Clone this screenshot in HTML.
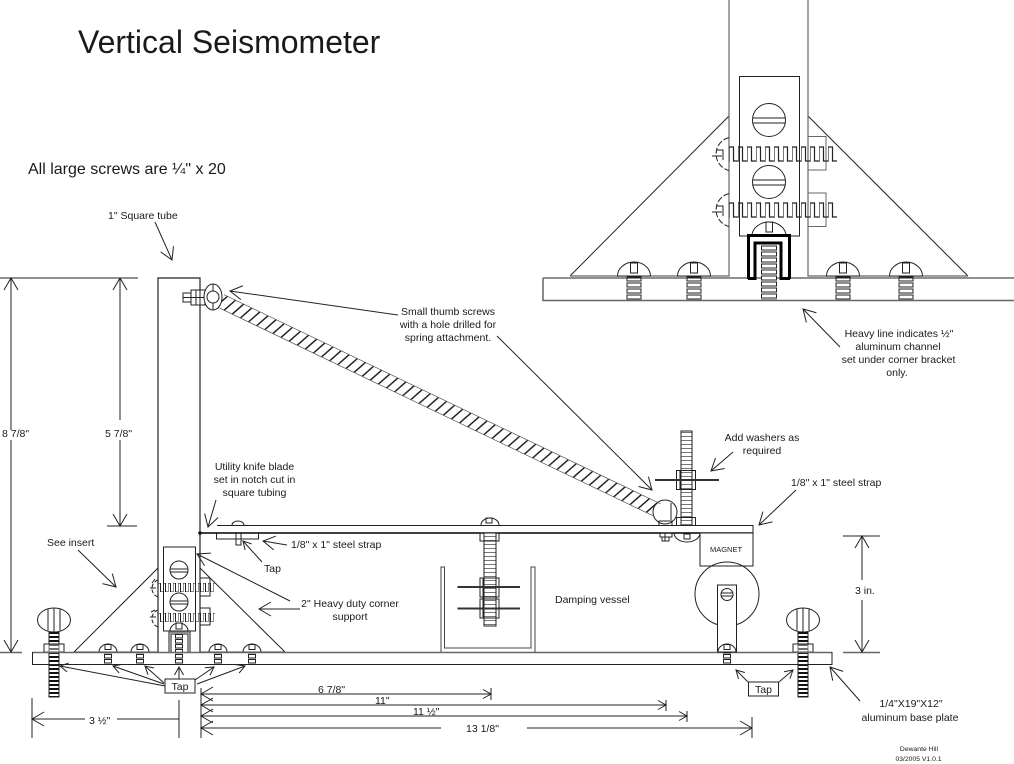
<!DOCTYPE html>
<html><head><meta charset="utf-8"><style>
html,body{margin:0;padding:0;background:#fff;width:1014px;height:764px;overflow:hidden}
svg{display:block}
text{font-family:"Liberation Sans",sans-serif;fill:#1a1a1a;font-size:10.5px}
.c{text-anchor:middle}
.l{fill:none;stroke:#222;stroke-width:1}
.g{fill:none;stroke:#666;stroke-width:1.500}
.a{fill:none;stroke:#222;stroke-width:1;marker-end:url(#ah)}
.s{fill:none;stroke:#222;stroke-width:1;marker-end:url(#as)}
.w{fill:#fff;stroke:#222;stroke-width:1}
.h{fill:none;stroke:#000;stroke-width:3}
</style></head><body>
<svg width="1014" height="764" viewBox="0 0 1014 764" xmlns="http://www.w3.org/2000/svg">
<defs>
<marker id="ah" markerUnits="userSpaceOnUse" markerWidth="26" markerHeight="26" refX="15" refY="9" orient="auto"><path d="M3 2 L15 9 L3 16" fill="none" stroke="#222" stroke-width="1"/></marker>
<marker id="as" markerUnits="userSpaceOnUse" markerWidth="16" markerHeight="16" refX="10" refY="6" orient="auto"><path d="M2 1.500 L10 6 L2 10.500" fill="none" stroke="#222" stroke-width="1"/></marker>
<pattern id="vt" width="8" height="4" patternUnits="userSpaceOnUse"><rect width="8" height="4" fill="#fff"/><rect width="8" height="2" fill="#111"/></pattern>
<pattern id="vl" width="8" height="4" patternUnits="userSpaceOnUse"><rect width="8" height="4" fill="#fff"/><rect width="8" height="1" fill="#777"/></pattern>
<pattern id="tb" x="-7.500" y="0" width="15" height="6" patternUnits="userSpaceOnUse"><rect x="0.500" y="1" width="14" height="4" fill="#fff" stroke="#222"/></pattern>
<pattern id="tc" x="761" y="245" width="16" height="6" patternUnits="userSpaceOnUse"><rect x="0.500" y="1" width="15" height="4" fill="#fff" stroke="#222"/></pattern>
<pattern id="tm" x="-4" y="0" width="8" height="5" patternUnits="userSpaceOnUse"><rect x="0.500" y="0.500" width="7" height="3.500" fill="#fff" stroke="#222"/></pattern>
<pattern id="tm2" x="175" y="634" width="8" height="5" patternUnits="userSpaceOnUse"><rect x="0.500" y="0.500" width="7" height="3.500" fill="#fff" stroke="#222"/></pattern>
<pattern id="sq" x="729" y="146" width="9" height="16" patternUnits="userSpaceOnUse"><path d="M0 16V1H4.500V15H9" fill="none" stroke="#222" stroke-width="1.200"/></pattern>
<pattern id="sq2" x="729" y="202" width="9" height="16" patternUnits="userSpaceOnUse"><path d="M0 16V1H4.500V15H9" fill="none" stroke="#222" stroke-width="1.200"/></pattern>
<pattern id="m1" x="158" y="583" width="5" height="9" patternUnits="userSpaceOnUse"><path d="M0 9V0H2.500V9H5" fill="none" stroke="#222" stroke-width="1"/></pattern>
<pattern id="m2" x="158" y="613" width="5" height="9" patternUnits="userSpaceOnUse"><path d="M0 9V0H2.500V9H5" fill="none" stroke="#222" stroke-width="1"/></pattern>
<g id="big"><rect x="-7.500" y="-1" width="15" height="25" fill="url(#tb)"/><path d="M-16.500 0A16.500 14 0 0 1 16.500 0Z" class="w"/><rect x="-3.500" y="-13" width="7" height="10" class="w"/></g>
<g id="mini"><rect x="-4" y="8" width="8" height="12" fill="url(#tm)"/><path d="M-9 8A9 8 0 0 1 9 8Z" class="w"/><rect x="-3" y="0.500" width="6" height="5" class="w"/></g>
<g id="thumb"><ellipse rx="16.500" ry="12" cx="0" cy="0" class="w"/><path d="M-6-10.500V10.500M0-12V12M6-10.500V10.500" class="l"/><rect x="-5" y="12" width="10" height="65" fill="url(#vt)"/><path d="M-5 12V77H5V12" class="l"/><rect x="-10" y="24" width="20" height="8" class="w" fill-opacity="0.4"/></g>
</defs>

<text x="78" y="53" style="font-size:32px">Vertical Seismometer</text>
<text x="28" y="174" style="font-size:16px">All large screws are ¼" x 20</text>

<!-- INSERT -->
<path d="M570 276 L729 116 M808 116 L968 276" class="l"/>
<path d="M570 276H729V0M808 0V276H968" class="g" style="stroke-width:1.200"/>
<use href="#big" x="634" y="276"/><use href="#big" x="694" y="276"/><use href="#big" x="843" y="276"/><use href="#big" x="906" y="276"/>
<path d="M543 278H1014" class="l"/><path d="M543 278V300.500H1014" class="g"/>
<rect x="739.500" y="76.500" width="60" height="159.500" class="w"/>
<circle cx="769" cy="120" r="16.500" class="l"/><path d="M752.500 118H785.500M752.500 123H785.500" class="l"/>
<circle cx="769" cy="182" r="16.500" class="l"/><path d="M752.500 180H785.500M752.500 185H785.500" class="l"/>
<path d="M729 137.500A17 17 0 0 0 729 170.500M729 193.500A17 17 0 0 0 729 226.500" class="l" stroke-dasharray="6 2"/>
<path d="M716 150H723V160M712 156H722M716 206H723V216M712 212H722" class="l"/>
<rect x="808" y="136.500" width="18" height="33.500" class="g" style="stroke-width:1"/>
<rect x="808" y="193" width="18" height="33.500" class="g" style="stroke-width:1"/>
<rect x="729" y="146" width="108" height="16" fill="url(#sq)"/>
<rect x="729" y="202" width="108" height="16" fill="url(#sq2)"/>
<path d="M752 236A17 14 0 0 1 786 236" class="l"/><rect x="766" y="222" width="6.500" height="10" class="l"/>
<rect x="761" y="245" width="16" height="55" fill="url(#tc)"/>
<path d="M748.500 279V235.500H789.500V279" class="h"/><path d="M748 278.500H755V243H781V278.500H790" class="h"/>

<!-- tube -->
<path d="M200 652V278H158V652" class="l" style="stroke-width:1.200"/>
<path d="M158 652H74L158 568M200 652H285L200 568" class="l"/>
<use href="#mini" x="108" y="644"/><use href="#mini" x="140" y="644"/><use href="#mini" x="218" y="644"/><use href="#mini" x="252" y="644"/>
<!-- mini bracket -->
<rect x="163.500" y="547" width="32" height="84" class="w" stroke="#444"/>
<circle cx="179" cy="570" r="9" class="l"/><path d="M170 569H188M170 572H188" class="l"/>
<circle cx="179" cy="602" r="9" class="l"/><path d="M170 601H188M170 604H188" class="l"/>
<rect x="200" y="578" width="10" height="18" class="l"/><rect x="200" y="608" width="10" height="17" class="l"/>
<rect x="158" y="583" width="57" height="9" fill="url(#m1)"/><rect x="158" y="613" width="57" height="9" fill="url(#m2)"/>
<path d="M158 580A9 9 0 0 0 158 597M158 610A9 9 0 0 0 158 627" class="l" stroke-dasharray="4 2"/>
<path d="M152 583L155 579M150 588H156M151 612L155 610M150 617H156" class="l"/>
<path d="M169 652V632H190V652M171 652V634H188V652" class="g"/>
<path d="M170 631A9 8 0 0 1 188 631" class="l"/><rect x="176" y="623" width="6" height="6" class="l"/>
<rect x="175" y="634" width="8" height="30" fill="url(#tm2)"/>

<!-- thumb screws -->
<use href="#thumb" x="54" y="620"/>
<use href="#thumb" x="803" y="620"/>

<!-- base plate -->
<path d="M0 652.500H22" class="g"/>
<path d="M32 652.500H832" class="g"/>
<path d="M32.500 652V664.500H832V652" class="l"/>
<path d="M843 652.500H880" class="g"/>

<!-- spring-end eyelet -->
<circle cx="665" cy="512" r="12" class="l"/>
<path d="M671 503V520" class="l"/>

<!-- spring -->
<g transform="translate(221 301) rotate(25.600) skewX(-23)">
<path d="M0 0H486" stroke="#222" stroke-width="14" stroke-dasharray="1.600 7.400" fill="none"/>
</g>
<g transform="translate(221 301) rotate(25.600)">
<path d="M0 -7H484M0 7H484" stroke="#555" stroke-width="0.700" fill="none"/>
</g>

<!-- top thumb -->
<rect x="183" y="293" width="8" height="9" class="w"/><rect x="191" y="290" width="14" height="15" class="w"/><path d="M196 290V305M200 290V305M183 297.500H205" class="l"/>
<ellipse cx="213" cy="297" rx="9" ry="13" class="w"/><path d="M213 284V310" class="l"/><circle cx="213" cy="297" r="6" class="w"/>

<!-- strap / arm -->
<rect x="216.500" y="533" width="42" height="6" class="w"/>
<path d="M232 525A6 4 0 0 1 244 525" class="l"/><rect x="236" y="533" width="5" height="6" class="l"/><rect x="236" y="539" width="5" height="6" class="l"/>
<path d="M217 525.500H753V532.500" class="l"/>
<path d="M199 533H753" stroke="#000" stroke-width="1.500"/>
<circle cx="200" cy="533" r="1.800" fill="#111"/>

<!-- vessel -->
<path d="M441 652V567H444.500V648H531V567H535V652" class="g" style="stroke:#444;stroke-width:1"/>
<path d="M481 525A9 7 0 0 1 499 525" class="l"/><rect x="486" y="518" width="6" height="5" class="l"/>
<rect x="484" y="533" width="12" height="93" fill="url(#vl)"/><path d="M484 533V626H496V533" class="l"/>
<rect x="480" y="533" width="19" height="8" class="l"/>
<rect x="480" y="578" width="19" height="19" class="l"/><rect x="480" y="599" width="19" height="19" class="l"/>
<path d="M483 578V618M496 578V618" class="l"/>
<path d="M457.500 587H520M457.500 608.500H520" stroke="#333" stroke-width="2"/>

<!-- magnet & pivot -->
<rect x="700" y="533" width="53" height="33" class="w"/>
<text x="726" y="552" class="c" style="font-size:7.500px">MAGNET</text>
<circle cx="727" cy="594" r="32" class="l"/>
<rect x="717.500" y="585" width="19" height="67" class="w"/>
<circle cx="727" cy="594.500" r="6" class="l"/><path d="M721 593H733M721 596H733" stroke="#222" stroke-width="1"/>
<use href="#mini" x="727" y="644"/>

<!-- right threaded rod -->
<rect x="681" y="431" width="11" height="94" fill="url(#vl)"/><path d="M681 525V431H692V525" class="l"/>
<rect x="676.500" y="470.500" width="19" height="9" class="l"/><rect x="676.500" y="480.500" width="19" height="9" class="l"/><path d="M680 470V489M692 470V489" class="l"/>
<path d="M655 480H719" stroke="#333" stroke-width="2"/>
<rect x="676.500" y="517.500" width="19" height="8" class="l"/>
<path d="M674 533A13 9 0 0 0 700 533" class="l"/><rect x="684" y="534" width="6" height="5" class="l"/>
<path d="M659 521H672V525.500H659ZM660 533H672V537H660ZM662 537H669V541H662ZM665 533V541" class="l"/>

<!-- Tap boxes & arrows -->
<path class="s" d="M165 686L60 666"/><path class="s" d="M164 684L113 666"/><path class="s" d="M164 683L145 666"/><path class="s" d="M179 679V667"/><path class="s" d="M195 680L214 667"/><path class="s" d="M197 684L245 666"/><path class="s" d="M748 682L736 670"/><path class="s" d="M779 682L793 670"/>
<rect x="165" y="679" width="30" height="14" class="w"/><text x="180" y="690" class="c">Tap</text>
<rect x="748.500" y="682" width="30" height="14" class="w"/><text x="763.500" y="693" class="c">Tap</text>

<!-- Labels and pointers -->
<text x="108" y="219">1" Square tube</text>
<path d="M155 222L172 260" class="a"/>
<text x="47" y="546">See insert</text>
<path d="M78 550L116 587" class="a"/>
<text x="254.500" y="470" class="c">Utility knife blade</text>
<text x="254.500" y="483" class="c">set in notch cut in</text>
<text x="254.500" y="496" class="c">square tubing</text>
<path d="M216 500L208 527" class="a"/>
<text x="291" y="548">1/8" x 1" steel strap</text>
<path d="M287 545L263 541" class="a"/>
<text x="264" y="572">Tap</text>
<path d="M262 562L243 541" class="s"/>
<text x="350" y="607" class="c">2" Heavy duty corner</text>
<text x="350" y="620" class="c">support</text>
<path d="M290 601L197 554" class="a"/><path d="M300 609H259" class="a"/>
<text x="448" y="315" class="c">Small thumb screws</text>
<text x="448" y="328" class="c">with a hole drilled for</text>
<text x="448" y="341" class="c">spring attachment.</text>
<path d="M398 315L230 291" class="a"/><path d="M497 336L652 490" class="a"/>
<text x="762" y="441" class="c">Add washers as</text>
<text x="762" y="454" class="c">required</text>
<path d="M733 452L711 471" class="a"/>
<text x="791" y="486">1/8" x 1" steel strap</text>
<path d="M796 490L759 525" class="a"/>
<text x="555" y="603">Damping vessel</text>
<text x="899" y="337" class="c">Heavy line indicates ½"</text>
<text x="898" y="350" class="c">aluminum channel</text>
<text x="898.500" y="363" class="c">set under corner bracket</text>
<text x="897" y="376" class="c">only.</text>
<path d="M840 347L803 309" class="a"/>
<text x="911" y="707" class="c">1/4"X19"X12"</text>
<text x="910" y="721" class="c">aluminum base plate</text>
<path d="M860 701L830 667" class="a"/>
<text x="919" y="751" class="c" style="font-size:6.800px">Dewante Hill</text>
<text x="918.500" y="761" class="c" style="font-size:6.800px">03/2005 V1.0.1</text>

<!-- Dimensions -->
<path d="M0 278H138M107 526H137" class="l"/>
<path d="M11 430V278" class="a"/><path d="M11 440V652" class="a"/>
<path d="M120 420V278" class="a"/><path d="M120 440V526" class="a"/>
<text x="2" y="437">8 7/8"</text>
<text x="105" y="437">5 7/8"</text>
<path d="M843 536H880" class="l"/>
<path d="M862 580V536" class="a"/><path d="M862 600V652" class="a"/>
<text x="855" y="594">3 in.</text>
<path d="M32 698V738M179 700V738M201 688V738" class="l"/>
<path d="M85 719H32" class="a"/><path d="M117 719H179" class="l"/>
<text x="89" y="724">3 ½"</text>
<path d="M491 688V700M666 700V711M687 711V722M752 717V738" class="l"/>
<path d="M300 694H201" class="a"/><path d="M300 694H491" class="s"/>
<path d="M300 705H201" class="a"/><path d="M300 705H666" class="s"/>
<path d="M300 716H201" class="a"/><path d="M300 716H687" class="s"/>
<path d="M441 728H201" class="a"/><path d="M527 728H752" class="a"/>
<text x="318" y="693">6 7/8"</text>
<text x="375" y="704">11"</text>
<text x="413" y="715">11 ½"</text>
<text x="466" y="732">13 1/8"</text>
</svg>
</body></html>
